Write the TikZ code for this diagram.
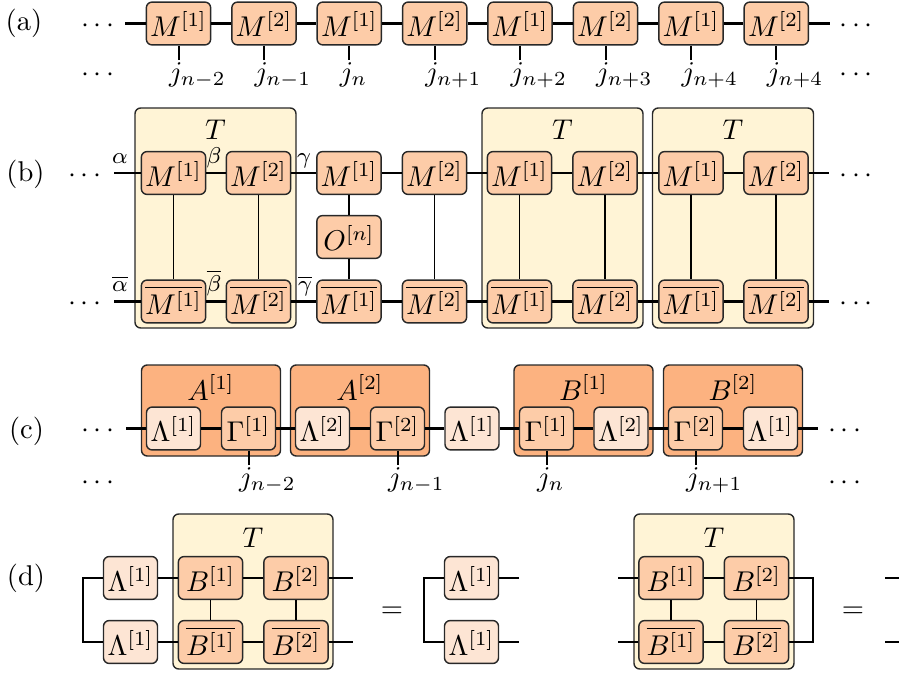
\documentclass[tikz,border=0pt]{standalone}
\definecolor{mpeach}{RGB}{253,204,168}
\definecolor{aorange}{RGB}{252,178,128}
\definecolor{lpale}{RGB}{253,229,212}
\definecolor{tyellow}{RGB}{255,244,214}
\definecolor{lineink}{RGB}{40,40,40}
\begin{document}
\begin{tikzpicture}[x=0.35pt, y=-0.35pt,
  tensor/.style={draw=lineink, line width=0.5pt, rounded corners=2pt, fill=mpeach, inner sep=1pt,
    minimum width=22.5pt, minimum height=15pt, text height=9.4pt, text depth=0pt},
  lam/.style={tensor, fill=lpale, minimum width=18.9pt},
  gam/.style={tensor, minimum width=18.9pt},
  bigbox/.style={draw=lineink, line width=0.5pt, rounded corners=2pt, fill=aorange, inner sep=0pt},
  tbox/.style={draw=lineink, line width=0.5pt, rounded corners=2pt, fill=tyellow, inner sep=0pt},
  bond/.style={line width=0.8pt},
  rung/.style={line width=0.65pt},
  leg/.style={line width=0.7pt},
  idx/.style={anchor=north west, inner sep=0pt},
  tag/.style={anchor=base, font=\footnotesize, inner sep=0pt},
  title/.style={anchor=base, inner sep=0pt}]
\useasboundingbox (0,0) rectangle (899,675);

\node (pa) at (24,23) {(a)};
\node (pb) at (25.5,174) {(b)};
\node (pc) at (26.5,431) {(c)};
\node (pd) at (26,578) {(d)};

\node[tensor] (a1) at (178.5,23.5) {$M^{[1]}$};
\node[tensor] (a2) at (264,23.5) {$M^{[2]}$};
\node[tensor] (a3) at (349.3,23.5) {$M^{[1]}$};
\node[tensor] (a4) at (434.7,23.5) {$M^{[2]}$};
\node[tensor] (a5) at (520,23.5) {$M^{[1]}$};
\node[tensor] (a6) at (605.5,23.5) {$M^{[2]}$};
\node[tensor] (a7) at (691,23.5) {$M^{[1]}$};
\node[tensor] (a8) at (776.3,23.5) {$M^{[2]}$};
\coordinate (al) at (125,23.5);
\coordinate (ar) at (830,23.5);
\node (dal) at (98,26.5) {$\cdots$};
\node (dar) at (856,26.5) {$\cdots$};
\node (dalb) at (98,75) {$\cdots$};
\node (darb) at (856,75) {$\cdots$};
\draw[bond] (al) -- (a1) -- (a2) -- (a3) -- (a4) -- (a5) -- (a6) -- (a7) -- (a8) -- (ar);
\coordinate (qa1) at (178.5,60);
\coordinate (qa2) at (264,60);
\coordinate (qa3) at (349.3,60);
\coordinate (qa4) at (434.7,60);
\coordinate (qa5) at (520,60);
\coordinate (qa6) at (605.5,60);
\coordinate (qa7) at (691,60);
\coordinate (qa8) at (776.3,60);
\draw[leg] (a1) -- (qa1);
\draw[leg] (a2) -- (qa2);
\draw[leg] (a3) -- (qa3);
\draw[leg] (a4) -- (qa4);
\draw[leg] (a5) -- (qa5);
\draw[leg] (a6) -- (qa6);
\draw[leg] (a7) -- (qa7);
\draw[leg] (a8) -- (qa8);
\node[idx] (ja1) at (168.5,62) {$j_{n-2}$};
\node[idx] (ja2) at (254,62) {$j_{n-1}$};
\node[idx] (ja3) at (339.3,62) {$j_{n}$};
\node[idx] (ja4) at (424.7,62) {$j_{n+1}$};
\node[idx] (ja5) at (510,62) {$j_{n+2}$};
\node[idx] (ja6) at (595.5,62) {$j_{n+3}$};
\node[idx] (ja7) at (681,62) {$j_{n+4}$};
\node[idx] (ja8) at (766.3,62) {$j_{n+4}$};

\node[tbox, minimum width=56.35pt, minimum height=77pt] (tb1) at (215.5,218) {};
\node[tbox, minimum width=56.35pt, minimum height=77pt] (tb2) at (562.5,218) {};
\node[tbox, minimum width=56.35pt, minimum height=77pt] (tb3) at (733,218) {};
\node[title] (ttb1) at (215.5,140) {$T$};
\node[title] (ttb2) at (562.5,140) {$T$};
\node[title] (ttb3) at (733,140) {$T$};
\node[tensor] (b1) at (173.5,173) {$M^{[1]}$};
\node[tensor] (b2) at (258.5,173) {$M^{[2]}$};
\node[tensor] (b3) at (349,173) {$M^{[1]}$};
\node[tensor] (b4) at (434.5,173) {$M^{[2]}$};
\node[tensor] (b5) at (519.5,173) {$M^{[1]}$};
\node[tensor] (b6) at (605,173) {$M^{[2]}$};
\node[tensor] (b7) at (691,173) {$M^{[1]}$};
\node[tensor] (b8) at (776,173) {$M^{[2]}$};
\node[tensor] (op) at (349,237) {$O^{[n]}$};
\node[tensor] (bb1) at (173.5,301.5) {$\overline{M^{[1]}}$};
\node[tensor] (bb2) at (258.5,301.5) {$\overline{M^{[2]}}$};
\node[tensor] (bb3) at (349,301.5) {$\overline{M^{[1]}}$};
\node[tensor] (bb4) at (434.5,301.5) {$\overline{M^{[2]}}$};
\node[tensor] (bb5) at (519.5,301.5) {$\overline{M^{[1]}}$};
\node[tensor] (bb6) at (605,301.5) {$\overline{M^{[2]}}$};
\node[tensor] (bb7) at (691,301.5) {$\overline{M^{[1]}}$};
\node[tensor] (bb8) at (776,301.5) {$\overline{M^{[2]}}$};
\coordinate (bl) at (114,173);
\coordinate (br) at (829,173);
\coordinate (bbl) at (114,301.5);
\coordinate (bbr) at (829,301.5);
\node (dbl) at (85,176) {$\cdots$};
\node (dbr) at (856,176) {$\cdots$};
\node (dbbl) at (85,304.5) {$\cdots$};
\node (dbbr) at (856,304.5) {$\cdots$};
\draw[bond] (bl) -- (b1) -- (b2) -- (b3) -- (b4) -- (b5) -- (b6) -- (b7) -- (b8) -- (br);
\draw[bond] (bbl) -- (bb1) -- (bb2) -- (bb3) -- (bb4) -- (bb5) -- (bb6) -- (bb7) -- (bb8) -- (bbr);
\draw[rung] (b1) -- (bb1);
\draw[rung] (b2) -- (bb2);
\draw[rung] (b3) -- (op) -- (bb3);
\draw[rung] (b4) -- (bb4);
\draw[rung] (b5) -- (bb5);
\draw[rung] (b6) -- (bb6);
\draw[rung] (b7) -- (bb7);
\draw[rung] (b8) -- (bb8);
\node[tag] (ka) at (120,163) {$\alpha$};
\node[tag] (kb) at (214,163) {$\beta$};
\node[tag] (kg) at (304,163) {$\gamma$};
\node[tag] (kab) at (120,291) {$\overline{\alpha}$};
\node[tag] (kbb) at (214,291) {$\overline{\beta}$};
\node[tag] (kgb) at (305,291) {$\overline{\gamma}$};

\node[bigbox, minimum width=48.65pt, minimum height=31.85pt] (A1) at (211,410.5) {};
\node[bigbox, minimum width=48.65pt, minimum height=31.85pt] (A2) at (360,410.5) {};
\node[bigbox, minimum width=48.65pt, minimum height=31.85pt] (B1) at (583.5,410.5) {};
\node[bigbox, minimum width=48.65pt, minimum height=31.85pt] (B2) at (733,410.5) {};
\node[title] (tA1) at (211,400) {$A^{[1]}$};
\node[title] (tA2) at (360,400) {$A^{[2]}$};
\node[title] (tB1) at (583.5,400) {$B^{[1]}$};
\node[title] (tB2) at (733,400) {$B^{[2]}$};
\node[lam] (c1) at (173.5,428.5) {$\Lambda^{[1]}$};
\node[gam] (c2) at (248.5,428.5) {$\Gamma^{[1]}$};
\node[lam] (c3) at (322.5,428.5) {$\Lambda^{[2]}$};
\node[gam] (c4) at (397.5,428.5) {$\Gamma^{[2]}$};
\node[lam] (c5) at (472,428.5) {$\Lambda^{[1]}$};
\node[gam] (c6) at (546.5,428.5) {$\Gamma^{[1]}$};
\node[lam] (c7) at (621,428.5) {$\Lambda^{[2]}$};
\node[gam] (c8) at (695.5,428.5) {$\Gamma^{[2]}$};
\node[lam] (c9) at (770.5,428.5) {$\Lambda^{[1]}$};
\coordinate (cl) at (126,428.5);
\coordinate (cr) at (818,428.5);
\node (dcl) at (98,431.5) {$\cdots$};
\node (dcr) at (845,431.5) {$\cdots$};
\node (dclb) at (98,483) {$\cdots$};
\node (dcrb) at (845,483) {$\cdots$};
\draw[bond] (cl) -- (c1) -- (c2) -- (c3) -- (c4) -- (c5) -- (c6) -- (c7) -- (c8) -- (c9) -- (cr);
\coordinate (qc2) at (248.5,465);
\coordinate (qc4) at (397.5,465);
\coordinate (qc6) at (546.5,465);
\coordinate (qc8) at (695.5,465);
\draw[leg] (c2) -- (qc2);
\draw[leg] (c4) -- (qc4);
\draw[leg] (c6) -- (qc6);
\draw[leg] (c8) -- (qc8);
\node[idx] (jc2) at (238.5,467) {$j_{n-2}$};
\node[idx] (jc4) at (387.5,467) {$j_{n-1}$};
\node[idx] (jc6) at (536.5,467) {$j_{n}$};
\node[idx] (jc8) at (685.5,467) {$j_{n+1}$};

\node[tbox, minimum width=56pt, minimum height=54.25pt] (td1) at (253,591.5) {};
\node[tbox, minimum width=56pt, minimum height=54.25pt] (td2) at (714,591.5) {};
\node[title] (ttd1) at (253,547) {$T$};
\node[title] (ttd2) at (714,547) {$T$};
\node[lam] (dl1) at (130.5,578) {$\Lambda^{[1]}$};
\node[lam] (dl2) at (130.5,642) {$\Lambda^{[1]}$};
\node[tensor] (d1) at (210.5,578) {$B^{[1]}$};
\node[tensor] (d2) at (296,578) {$B^{[2]}$};
\node[tensor] (dd1) at (210.5,642) {$\overline{B^{[1]}}$};
\node[tensor] (dd2) at (296,642) {$\overline{B^{[2]}}$};
\node (eq1) at (392,612) {$=$};
\node[lam] (el1) at (471.5,578) {$\Lambda^{[1]}$};
\node[lam] (el2) at (471.5,642) {$\Lambda^{[1]}$};
\node[tensor] (f1) at (671,578) {$B^{[1]}$};
\node[tensor] (f2) at (756.5,578) {$B^{[2]}$};
\node[tensor] (ff1) at (671,642) {$\overline{B^{[1]}}$};
\node[tensor] (ff2) at (756.5,642) {$\overline{B^{[2]}}$};
\node (eq2) at (853,612) {$=$};
\coordinate (k1) at (83,578);
\coordinate (k2) at (83,642);
\coordinate (r1) at (353,578);
\coordinate (r2) at (353,642);
\coordinate (k3) at (424,578);
\coordinate (k4) at (424,642);
\coordinate (r3) at (519,578);
\coordinate (r4) at (519,642);
\coordinate (s1) at (618,578);
\coordinate (s2) at (618,642);
\coordinate (k5) at (813,578);
\coordinate (k6) at (813,642);
\coordinate (s3) at (885,578);
\coordinate (s4) at (905,578);
\coordinate (s5) at (885,642);
\coordinate (s6) at (905,642);
\draw[bond] (r1) -- (d2) -- (d1) -- (dl1) -- (k1) -- (k2) -- (dl2) -- (dd1) -- (dd2) -- (r2);
\draw[rung] (d1) -- (dd1);
\draw[rung] (d2) -- (dd2);
\draw[bond] (r3) -- (el1) -- (k3) -- (k4) -- (el2) -- (r4);
\draw[bond] (s1) -- (f1) -- (f2) -- (k5) -- (k6) -- (ff2) -- (ff1) -- (s2);
\draw[rung] (f1) -- (ff1);
\draw[rung] (f2) -- (ff2);
\draw[bond] (s3) -- (s4);
\draw[bond] (s5) -- (s6);
\end{tikzpicture}
\end{document}
